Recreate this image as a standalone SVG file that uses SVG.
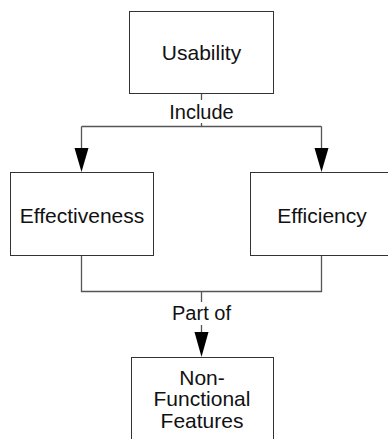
<svg xmlns="http://www.w3.org/2000/svg" width="388" height="439" viewBox="0 0 388 439">
  <style>
    .box { fill: #ffffff; stroke: #333333; stroke-width: 1; }
    .wire { fill: none; stroke: #555555; stroke-width: 1.3; }
    .txt { font-family: "Liberation Sans", Arial, sans-serif; font-size: 21px; fill: #111111; text-anchor: middle; dominant-baseline: central; }
    .lbl { font-family: "Liberation Sans", Arial, sans-serif; font-size: 20px; fill: #111111; text-anchor: middle; dominant-baseline: central; }
    .head { fill: #000000; }
  </style>
  <rect width="388" height="439" fill="#ffffff"/>

  <g id="connectors">
    <!-- Usability fans out to the two children -->
    <path class="wire" d="M201.5 93.5 V126.5 M81.5 126.5 H321.5 M81.5 126.5 V150 M321.5 126.5 V150"/>
    <polygon class="head" points="74.5,148 88.5,148 81.5,172"/>
    <polygon class="head" points="314.5,148 328.5,148 321.5,172"/>
    <rect x="160" y="100" width="83" height="23" fill="#ffffff"/>
    <text class="lbl" x="201.5" y="112">Include</text>

    <!-- children merge into Non-Functional Features -->
    <path class="wire" d="M81.5 256 V291.5 H321.5 V256 M201.5 291.5 V335"/>
    <polygon class="head" points="194.5,332 208.5,332 201.5,357"/>
    <rect x="163" y="302" width="77" height="23" fill="#ffffff"/>
    <text class="lbl" x="201.5" y="313">Part of</text>
  </g>

  <g id="usability">
    <rect class="box" x="129.5" y="11.5" width="144" height="82"/>
    <text class="txt" x="201.5" y="52">Usability</text>
  </g>

  <g id="effectiveness">
    <rect class="box" x="10.5" y="172.5" width="143" height="83"/>
    <text class="txt" x="82" y="215">Effectiveness</text>
  </g>

  <g id="efficiency">
    <rect class="box" x="250.5" y="172.5" width="143" height="83"/>
    <text class="txt" x="322" y="215">Efficiency</text>
  </g>

  <g id="non-functional-features">
    <rect class="box" x="131.5" y="357.5" width="142" height="100"/>
    <text class="txt" x="202" y="377">Non-</text>
    <text class="txt" x="202" y="398.5">Functional</text>
    <text class="txt" x="202" y="420">Features</text>
  </g>
</svg>
